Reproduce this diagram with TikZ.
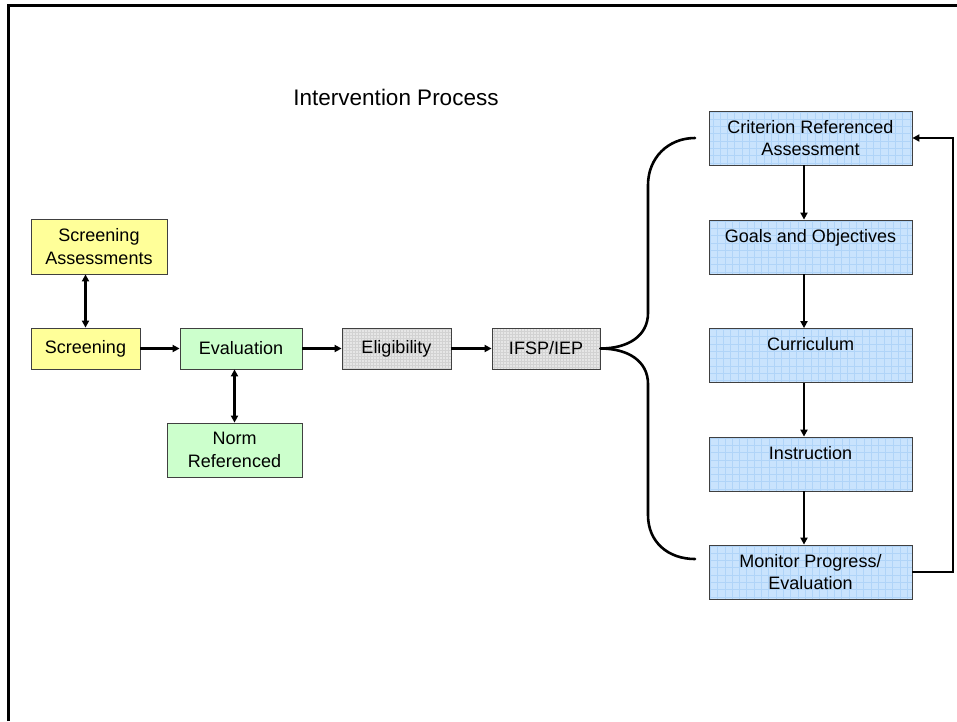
\documentclass[tikz,border=0pt]{standalone}
\usepackage{fontspec}
\setmainfont{Liberation Sans}
\usetikzlibrary{arrows.meta,calc}
\definecolor{yel}{HTML}{FFFF99}
\definecolor{grn}{HTML}{CCFFCC}
\definecolor{gry}{HTML}{E6E6E6}
\definecolor{gryline}{HTML}{D2D2D2}
\definecolor{blu}{HTML}{C9E3FD}
\definecolor{bluline}{HTML}{B0D4F8}
\tikzset{
  box/.style={draw=black!75, line width=0.8pt, inner sep=0pt, align=center,
    font=\fontsize{18}{22.5}\selectfont},
  yelbox/.style={box, fill=yel},
  grnbox/.style={box, fill=grn},
  grybox/.style={box, fill=gry, path picture={\draw[gryline, line width=0.3pt]
      (path picture bounding box.south west) grid[step=3pt] (path picture bounding box.north east);}},
  blubox/.style={box, fill=blu, minimum width=203pt, minimum height=54pt,
    path picture={\draw[bluline, line width=0.6pt]
      (path picture bounding box.south west) grid[step=7.3pt] (path picture bounding box.north east);}},
  conn/.style={line width=2.5pt, -{Triangle[length=7pt,width=7pt]}},
  dconn/.style={line width=2.5pt, {Triangle[length=7pt,width=7pt]}-{Triangle[length=7pt,width=7pt]}},
  brace/.style={line width=2.6pt, line cap=round},
}
\begin{document}
\begin{tikzpicture}[x=1pt,y=1pt]
\useasboundingbox (0,0) rectangle (957,-721);
\draw[line width=2.5pt] (8.5,-721) -- (8.5,-5.5) -- (957,-5.5);
\node[font=\fontsize{22.5}{26}\selectfont] (title) at (396,-97) {Intervention Process};

\node[yelbox, minimum width=136pt, minimum height=55pt] (sa) at (99,-246.5) {Screening\\Assessments};
\node[yelbox, minimum width=109pt, minimum height=41pt] (scr) at (85.5,-348.5) {Screening};
\node[grnbox, minimum width=122pt, minimum height=41pt] (eval) at (241,-348.5) {Evaluation};
\node[grnbox, minimum width=135pt, minimum height=54pt] (norm) at (234.5,-450) {Norm\\Referenced};
\node[grybox, minimum width=109pt, minimum height=41pt] (elig) at (396.5,-348.5) {Eligibility};
\node[grybox, minimum width=108pt, minimum height=41pt] (ifsp) at (546,-348.5) {IFSP/IEP};

\node[blubox] (cra) at (810.5,-138) {Criterion Referenced\\Assessment};
\node[blubox] (goals) at (810.5,-247) {Goals and Objectives\\\mbox{}};
\node[blubox] (curr) at (810.5,-355.5) {Curriculum\\\mbox{}};
\node[blubox] (instr) at (810.5,-464) {Instruction\\\mbox{}};
\node[blubox] (mon) at (810.5,-572) {Monitor Progress/\\Evaluation};

\draw[dconn] (scr.north) -- (scr.north |- sa.south);
\draw[dconn] (norm.north) -- (norm.north |- eval.south);
\draw[conn] (scr) -- (eval);
\draw[conn] (eval) -- (elig);
\draw[conn] (elig) -- (ifsp);

\draw[conn] ([xshift=-6.5pt]cra.south) -- ([xshift=-6.5pt]goals.north);
\draw[conn] ([xshift=-6.5pt]goals.south) -- ([xshift=-6.5pt]curr.north);
\draw[conn] ([xshift=-6.5pt]curr.south) -- ([xshift=-6.5pt]instr.north);
\draw[conn] ([xshift=-6.5pt]instr.south) -- ([xshift=-6.5pt]mon.north);

\coordinate (btop) at (695,-138);
\coordinate (bbot) at (695,-559);
\draw[brace] (ifsp.east) .. controls (628,-348.5) and (648,-336) .. (648,-313)
  -- (648,-185) .. controls (648,-158) and (668,-138) .. (btop);
\draw[brace] (ifsp.east) .. controls (628,-348.5) and (648,-361) .. (648,-384)
  -- (648,-515) .. controls (648,-542) and (668,-559) .. (bbot);

\coordinate (fb) at (953,-572);
\draw[conn, line join=miter] (mon.east) -- (fb) |- (cra.east);
\end{tikzpicture}
\end{document}
